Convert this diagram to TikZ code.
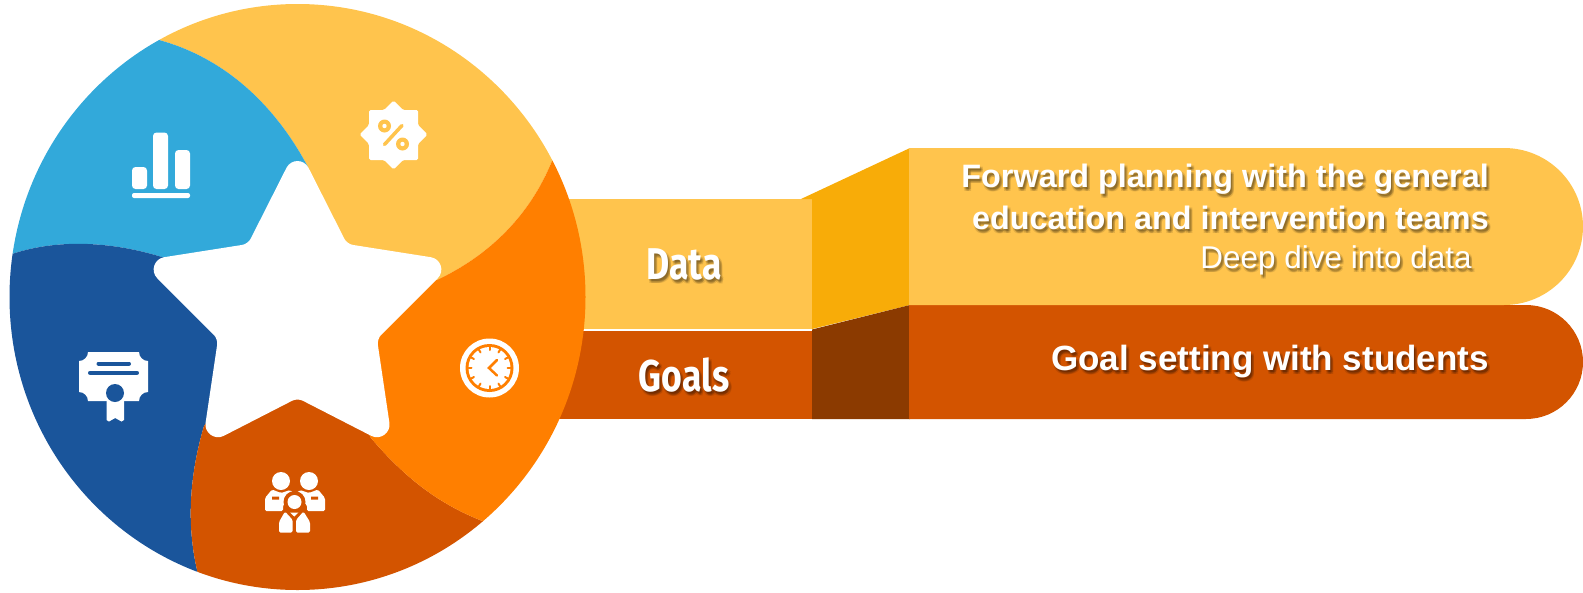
\documentclass[tikz,border=0pt]{standalone}
\usepackage{fontspec}
\usetikzlibrary{calc}
\setmainfont{Liberation Sans}
\newfontfamily\condfont[FakeStretch=0.80]{Fira Sans}
\definecolor{cyellow}{HTML}{FFC44D}
\definecolor{cblue}{HTML}{32A9DA}
\definecolor{cnavy}{HTML}{1A559B}
\definecolor{corange}{HTML}{FF7F00}
\definecolor{cred}{HTML}{D35400}
\definecolor{cdarkyellow}{HTML}{F8AC08}
\definecolor{cbrown}{HTML}{8B3A00}
\newcommand\shcopy[3]{\rlap{\kern#1pt\raisebox{#2pt}{\color{black}#3}}}
\newcommand\shtext[1]{\pgfsetfillopacity{0.11}%
\shcopy{1}{-2}{#1}\shcopy{3}{-2}{#1}\shcopy{1}{-4}{#1}\shcopy{3}{-4}{#1}\shcopy{2}{-3}{#1}%
\pgfsetfillopacity{1}\color{white}#1}
\newcommand\tipc[3]{($(#2)!24.5pt!(#1)$) .. controls ($(#2)!14.3pt!(#1)$) and ($(#2)!14.3pt!(#3)$) .. ($(#2)!24.5pt!(#3)$)}
\newcommand\innc[3]{($(#2)!6pt!(#1)$) .. controls ($(#2)!2.5pt!(#1)$) and ($(#2)!2.5pt!(#3)$) .. ($(#2)!6pt!(#3)$)}
\tikzset{
  x=1pt,y=-1pt,
  lbl/.style={text=white,inner sep=0pt,anchor=base},
  rlbl/.style={text=white,inner sep=0pt,anchor=base east},
  ico/.style={fill=white,draw=none},
  cut/.style={line cap=round,line width=#1},
}
\begin{document}
\begin{tikzpicture}
\useasboundingbox (0,0) rectangle (1583,592);
% left boxes
\fill[cyellow] (540,199) rectangle (813,329);
\fill[cred] (540,330.5) rectangle (813,419);
\draw[white,line width=1pt] (540,329.6) -- (813,329.6);
% connector facets
\fill[cdarkyellow] (801,199) -- (910,148) -- (910,305) -- (812,329) -- (812,199) -- cycle;
\fill[cbrown] (812,329.5) -- (910,305) -- (910,419) -- (812,419) -- cycle;
% pills
\fill[cred] (909,305) -- (1526,305) arc[start angle=-90,end angle=90,radius=57] -- (909,419) -- cycle;
\fill[cyellow] (909,148) -- (1504,148) arc[start angle=-90,end angle=90,x radius=79,y radius=78.5] -- (909,305) -- cycle;
% wheel
\begin{scope}
\clip (297.5,297) ellipse[x radius=288,y radius=293];
\fill[cyellow] (159,40) .. controls (225,58) and (275,105) .. (308,167) -- (297,300) -- (437,280) .. controls (490,255) and (530,215) .. (552,161) -- (807,25) -- (414,-500) -- (21,-217) -- cycle;
\fill[cblue] (159,40) .. controls (225,58) and (275,105) .. (308,167) -- (297,300) -- (165,258) .. controls (115,242) and (60,238) .. (12,254) -- (-300,200) -- (-200,-100) -- (21,-217) -- cycle;
\fill[cnavy] (12,254) .. controls (60,238) and (115,242) .. (165,258) -- (297,300) -- (204,426) .. controls (188,480) and (187,530) .. (198,574) -- (100,850) -- (-300,700) -- (-300,200) -- cycle;
\fill[cred] (198,574) .. controls (187,530) and (188,480) .. (204,426) -- (297,300) -- (371,438) .. controls (405,478) and (440,505) .. (485,522) -- (670,700) -- (100,850) -- cycle;
\fill[corange] (485,522) .. controls (440,505) and (405,478) .. (371,438) -- (297,300) -- (437,280) .. controls (490,255) and (530,215) .. (552,161) -- (807,25) -- (900,300) -- (670,700) -- cycle;
\end{scope}
% star
\coordinate (t1) at (297.5,146);
\coordinate (i1) at (347,244);
\coordinate (t2) at (455,261);
\coordinate (i2) at (377,339);
\coordinate (t3) at (393,447);
\coordinate (i3) at (297.5,398);
\coordinate (t4) at (202,447);
\coordinate (i4) at (218,339);
\coordinate (t5) at (140,261);
\coordinate (i5) at (248,244);
\fill[white] \tipc{i5}{t1}{i1} -- \innc{t1}{i1}{t2} -- \tipc{i1}{t2}{i2} -- \innc{t2}{i2}{t3} -- \tipc{i2}{t3}{i3} -- \innc{t3}{i3}{t4} -- \tipc{i3}{t4}{i4} -- \innc{t4}{i4}{t5} -- \tipc{i4}{t5}{i5} -- \innc{t5}{i5}{t1} -- cycle;
% bars icon
\fill[ico,rounded corners=3.5pt] (132,167) rectangle (147,189);
\fill[ico,rounded corners=3.5pt] (153,132.5) rectangle (168,189);
\fill[ico,rounded corners=3.5pt] (175,150) rectangle (190,189);
\fill[ico,rounded corners=2pt] (132,193) rectangle (190,198);
% percent badge
\fill[ico,rounded corners=1.5pt] (369,110) -- (384,110) -- (393.5,100.5) -- (403,110) -- (418,110) -- (418,125) -- (427.5,134.5) -- (418,144) -- (418,160) -- (403,160) -- (393.5,169.5) -- (384,160) -- (369,160) -- (369,144) -- (359.5,134.5) -- (369,125) -- cycle;
\fill[cyellow] (384.5,126) circle[radius=6.5] (402.5,144) circle[radius=6.5];
\fill[white] (384.5,126) circle[radius=2.2] (402.5,144) circle[radius=2.2];
\draw[cut=3.5pt,cyellow] (384.5,144.5) -- (402,125.5);
% clock icon
\fill[white] (489.5,368) circle[radius=29.5];
\fill[corange] (489.5,368) circle[radius=24];
\fill[white] (489.5,368) circle[radius=21];
\foreach \a in {0,30,...,330} \draw[cut=2pt,corange] (489.5,368) ++(\a:21) -- ++(\a+180:3);
\draw[cut=2.5pt,corange] (497,360) -- (489,368) -- (497,375.5);
% team icon
\fill[ico] (281,481) circle[radius=9] (309,481) circle[radius=9];
\fill[ico,rounded corners=1.5pt] (265,511) -- (265,498) -- (272,489.5) -- (281,493) -- (290,490) -- (296,495) -- (283,505) -- (283,511) -- cycle;
\fill[ico,rounded corners=1.5pt] (325,511) -- (325,498) -- (318,489.5) -- (309,493) -- (300,490) -- (294,495) -- (307,505) -- (307,511) -- cycle;
\fill[cred] (294.5,502) circle[radius=11];
\fill[white] (294.5,502) circle[radius=7];
\fill[cred] (272,496.5) rectangle (279,499.5) (311,496.5) rectangle (318,499.5);
\fill[ico,rounded corners=1.5pt] (279,532.5) -- (279,522) -- (285,511.5) -- (292.7,520) -- (292.7,532.5) -- cycle;
\fill[ico,rounded corners=1.5pt] (310,532.5) -- (310,522) -- (303.5,511.5) -- (296,520) -- (296,532.5) -- cycle;
\fill[ico] (290,512.5) -- (298.5,512.5) -- (294.3,516.5) -- cycle;
% certificate icon
\fill[ico] (88,352) -- (139,352) .. controls (139,357) and (143,361) .. (148,361) -- (148,392) .. controls (143,392) and (139,396) .. (139,401) -- (88,401) .. controls (88,396) and (84,392) .. (79,392) -- (79,361) .. controls (84,361) and (88,357) .. (88,352) -- cycle;
\fill[ico] (106.5,395) -- (124,395) -- (124,420) -- (121.5,421.5) -- (115.2,418) -- (109,421.5) -- (106.5,420) -- cycle;
\fill[cnavy] (115,393) circle[radius=9];
\draw[cut=4pt,cnavy] (98.5,363.5) -- (129,363.5);
\draw[cut=4pt,cnavy] (90,372.7) -- (137,372.7);
% texts
\node[lbl] (data) at (684,279) {\condfont\bfseries\fontsize{44.5}{52}\selectfont\shtext{Data}};
\node[lbl] (goals) at (684,391) {\condfont\bfseries\fontsize{44.5}{52}\selectfont\shtext{Goals}};
\node[rlbl] (fwd1) at (1489,187) {\bfseries\fontsize{32.4}{38}\selectfont\shtext{Forward planning with the general}};
\node[rlbl] (fwd2) at (1489,229) {\bfseries\fontsize{32.4}{38}\selectfont\shtext{education and intervention teams}};
\node[rlbl] (deep) at (1472,268) {\fontsize{31.5}{38}\selectfont\shtext{Deep dive into data}};
\node[rlbl] (goal) at (1489,370) {\bfseries\fontsize{35}{42}\selectfont\shtext{Goal setting with students}};
\end{tikzpicture}
\end{document}
